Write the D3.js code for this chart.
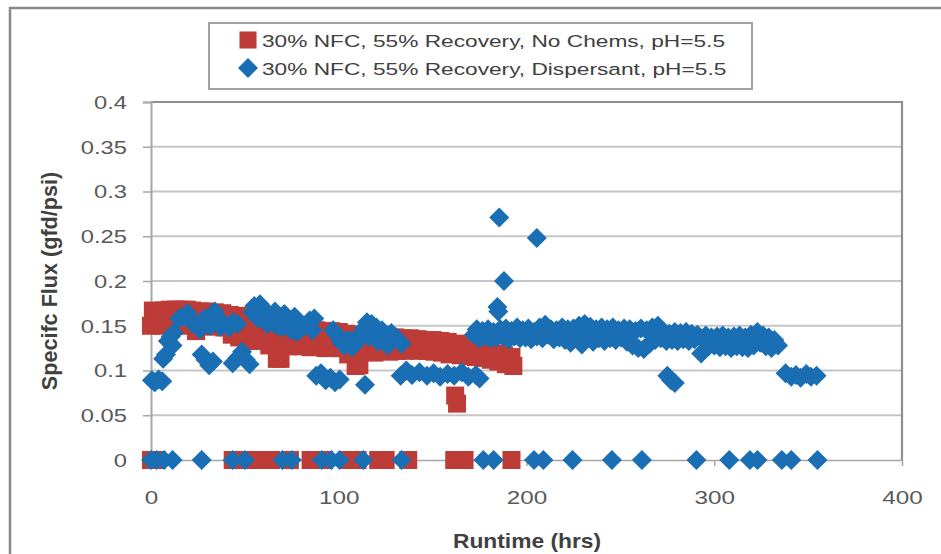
<!DOCTYPE html>
<html>
<head>
<meta charset="utf-8">
<script src="https://d3js.org/d3.v7.min.js"></script>
<style>
  body { margin: 0; background: #fff; }
  text { font-family: "Liberation Sans", Arial, sans-serif; }
</style>
</head>
<body>
<script>
var width = 941, height = 554;

// [runtime hrs, specific flux gfd/psi]
var noChems = [
  [0,0.150],[1,0.167],[2,0.158],[3,0.151],[4,0.166],[5,0.160],[6,0.150],[7,0.167],[8,0.156],[9,0.151],
  [10,0.168],[11,0.160],[12,0.150],[13,0.168],[14,0.157],[15,0.151],[16,0.168],[17,0.161],[18,0.150],[19,0.168],
  [20,0.158],[21,0.152],[22,0.167],[24,0.144],[25,0.160],[26,0.166],[27,0.150],[28,0.157],[30,0.166],[31,0.149],
  [32,0.160],[34,0.165],[35,0.150],[36,0.158],[38,0.164],[39,0.148],[40,0.158],[42,0.162],[43,0.140],[44,0.152],
  [46,0.161],[47,0.137],[48,0.150],[50,0.158],[51,0.134],[52,0.146],[54,0.156],[55,0.133],[56,0.144],[58,0.154],
  [59,0.135],[60,0.145],[62,0.152],[63,0.128],[64,0.140],[66,0.150],[67,0.113],[68,0.126],[69,0.113],[70,0.140],
  [72,0.148],[73,0.127],[74,0.138],[76,0.147],[77,0.128],[78,0.137],[80,0.146],[81,0.127],[82,0.136],[84,0.146],
  [85,0.126],[86,0.136],[88,0.145],[89,0.127],[90,0.135],[92,0.144],[93,0.125],[94,0.134],[96,0.144],[97,0.126],
  [98,0.134],[100,0.143],[101,0.125],[102,0.133],[104,0.141],[105,0.118],[106,0.130],[108,0.140],[109,0.105],[110,0.118],
  [111,0.106],[112,0.128],[114,0.139],[115,0.121],[116,0.130],[118,0.139],[119,0.120],[120,0.129],[122,0.138],[123,0.122],
  [124,0.130],[126,0.138],[127,0.121],[128,0.129],[130,0.137],[131,0.122],[132,0.129],[134,0.136],[135,0.122],[136,0.129],
  [138,0.136],[139,0.123],[140,0.129],[142,0.135],[143,0.122],[144,0.128],[146,0.134],[147,0.122],[148,0.128],[150,0.134],
  [151,0.121],[152,0.127],[154,0.133],[155,0.120],[156,0.126],[158,0.132],[159,0.118],[160,0.125],[162,0.072],[163,0.063],
  [164,0.130],[165,0.117],[166,0.124],[168,0.128],[169,0.116],[170,0.122],[172,0.126],[173,0.115],[174,0.120],[176,0.124],
  [177,0.114],[178,0.119],[180,0.122],[181,0.112],[182,0.117],[184,0.119],[185,0.110],[186,0.114],[188,0.117],[189,0.107],
  [190,0.112],[192,0.115],[193,0.105],
  // shutdowns
  [0,0],[3,0],[43.5,0],[50,0],[59,0],[64,0],[74,0],[85,0],[92,0],[105,0],[110,0],[121,0],[125,0],[137,0],
  [161.5,0],[167,0],[192,0]
];

var dispersant = [
  [0.5,0.089],[2,0.087],[4,0.090],[6,0.088],[6.5,0.113],[8,0.118],[9,0.133],[10.5,0.138],[11.5,0.128],[12,0.142],
  [15,0.158],[17,0.160],[19.5,0.164],[21,0.156],[22,0.153],[24,0.150],[26,0.146],[28.5,0.158],[30,0.152],[31.5,0.150],
  [34,0.166],[36,0.158],[37,0.149],[39,0.152],[41.5,0.148],[43.5,0.154],[46,0.152],
  [27,0.118],[29,0.112],[31,0.106],[33,0.110],
  [43.5,0.108],[46,0.114],[48.5,0.121],[50.5,0.112],[52.5,0.107],
  [54,0.165],[55,0.172],[57,0.158],[58,0.174],[60.5,0.168],[62,0.152],[63,0.162],[66,0.166],[67,0.150],[68.5,0.158],
  [70,0.148],[71,0.163],[74,0.156],[75,0.145],[76.5,0.160],[78,0.143],[79,0.152],[82,0.150],[84.5,0.156],[86,0.145],
  [87,0.158],
  [97,0.145],[99,0.140],[101,0.132],[103,0.128],[105,0.134],[107,0.126],[109,0.130],[111,0.140],
  [114,0.148],[115,0.154],[116,0.138],[117.5,0.152],[120,0.148],[121,0.132],[123,0.145],[125.5,0.140],[126,0.128],[128,0.142],
  [131,0.136],[133.5,0.130],
  [88,0.094],[90.5,0.097],[93,0.089],[95.5,0.092],[98,0.087],[100.5,0.090],[114,0.084],
  [133,0.094],[136,0.100],[139,0.095],[143,0.098],[147,0.094],[150.5,0.097],[154,0.093],[158,0.096],[161.5,0.094],
  [165.5,0.098],[169,0.093],[173,0.095],[175,0.091],
  [184.5,0.171],[185,0.166],[185.5,0.271],[188,0.200],[205.5,0.248],
  [172,0.140],[173.5,0.146],[175,0.136],[176.5,0.144],[178,0.138],[179.5,0.146],[181,0.136],[182.5,0.143],[184,0.137],[186,0.146],
  [187.5,0.138],[189,0.147],[190.5,0.135],[192,0.144],[193.5,0.138],[195,0.148],[196.5,0.136],[198,0.145],[199.5,0.137],[201,0.147],
  [202.5,0.135],[204,0.143],[205.5,0.138],[207,0.148],[208.5,0.136],[210,0.151],[211.5,0.140],[213,0.146],[214.5,0.135],[216,0.145],
  [217.5,0.137],[219,0.148],[220.5,0.134],[222,0.146],[223.5,0.131],[225,0.147],[226.5,0.136],[228,0.150],[229.5,0.129],[231,0.152],
  [232.5,0.138],[234,0.149],[235.5,0.132],[237,0.146],[238.5,0.136],[240,0.148],[241.5,0.133],[243,0.146],[244.5,0.136],[246,0.148],
  [247.5,0.134],[249,0.145],[250.5,0.137],[252,0.147],[253.5,0.132],[255,0.146],[256.5,0.128],[258,0.144],[259.5,0.125],[261,0.147],
  [262.5,0.124],[264,0.145],[265.5,0.130],[267,0.148],[268.5,0.134],[270,0.150],[271.5,0.136],[273,0.143],[274.5,0.133],[276,0.141],
  [277.5,0.134],[279,0.143],[280.5,0.133],[282,0.142],[283.5,0.135],[285,0.143],[286.5,0.133],[288,0.141],[289.5,0.135],[291,0.140],
  [293,0.119],[294,0.134],[295.5,0.139],[297,0.127],[298.5,0.137],[300,0.128],[301.5,0.138],[303,0.126],[304.5,0.139],[306,0.127],
  [307.5,0.137],[309,0.125],[310.5,0.138],[312,0.127],[313.5,0.139],[315,0.126],[316.5,0.137],[318,0.125],[319.5,0.140],[321,0.128],
  [323,0.143],[324.5,0.131],[326,0.139],[327.5,0.127],[329,0.137],[330.5,0.125],[332,0.134],[334,0.128],
  [275,0.094],[277,0.089],[279,0.086],
  [338,0.097],[341,0.093],[343.5,0.095],[346,0.092],[349,0.096],[351.5,0.093],[354.5,0.094],
  // shutdowns
  [0,0],[3,0],[7,0],[11.5,0],[27,0],[43.5,0],[50,0],[70,0],[75,0],[91,0],[96,0],[100.5,0],[113,0],[133.5,0],
  [177,0],[182.5,0],[204,0],[209,0],[224.5,0],[245.5,0],[261.5,0],[290.5,0],[308,0],[319,0],[323,0],[336,0],
  [341,0],[355,0]
];

var yTicks = [0, 0.05, 0.1, 0.15, 0.2, 0.25, 0.3, 0.35, 0.4];
var yTickLabels = ["0", "0.05", "0.1", "0.15", "0.2", "0.25", "0.3", "0.35", "0.4"];
var xTicks = [0, 100, 200, 300, 400];
var seriesNames = ["30% NFC, 55% Recovery, No Chems, pH=5.5",
                   "30% NFC, 55% Recovery, Dispersant, pH=5.5"];
var red = "#BE3C37", blue = "#1A6EB4";

var svg = d3.select("body").append("svg")
  .attr("width", width).attr("height", height);

// chart frame
svg.append("rect").attr("x", 10).attr("y", 8).attr("width", 960).attr("height", 600)
  .attr("fill", "none").attr("stroke", "#8a8a8a").attr("stroke-width", 2.5);

var x = d3.scaleLinear().domain([0, 400]).range([151, 902]);
var y = d3.scaleLinear().domain([0, 0.4]).range([460, 102]);

// gridlines
svg.append("g").selectAll("line").data(yTicks.slice(1, -1)).join("line")
  .attr("x1", x(0)).attr("x2", x(400))
  .attr("y1", d => y(d)).attr("y2", d => y(d))
  .attr("stroke", "#c6c6c6").attr("stroke-width", 2);

// plot area border (top/right)
svg.append("path")
  .attr("d", "M" + x(0) + "," + y(0.4) + "H" + x(400) + "V" + y(0))
  .attr("fill", "none").attr("stroke", "#8f8f8f").attr("stroke-width", 2.2);

// y axis
var yAxis = svg.append("g").attr("transform", "translate(" + x(0) + ",0)")
  .call(d3.axisLeft(y).tickValues(yTicks).tickSize(8)
    .tickFormat((d, i) => yTickLabels[i]));
yAxis.select(".domain").attr("stroke", "#a6a6a6").attr("stroke-width", 2);
yAxis.selectAll(".tick line").attr("stroke", "#a6a6a6").attr("stroke-width", 1.5);
yAxis.selectAll(".tick text")
  .attr("x", 0).attr("dy", "0.36em")
  .attr("transform", "translate(-24,0) scale(1.32,1)")
  .attr("font-size", 18).attr("fill", "#595959")
  .attr("font-family", "Liberation Sans, Arial, sans-serif");

// x axis
var xAxis = svg.append("g").attr("transform", "translate(0," + y(0) + ")")
  .call(d3.axisBottom(x).tickValues(xTicks).tickSize(6).tickSizeOuter(0));
xAxis.select(".domain").attr("stroke", "#a6a6a6").attr("stroke-width", 1.5);
xAxis.selectAll(".tick line").attr("stroke", "#a6a6a6").attr("stroke-width", 1.5);
xAxis.selectAll(".tick text")
  .attr("y", 0).attr("dy", 0)
  .attr("transform", "translate(0,44) scale(1.35,1)")
  .attr("font-size", 18).attr("fill", "#595959")
  .attr("font-family", "Liberation Sans, Arial, sans-serif");

// series
var square = d3.symbol().type(d3.symbolSquare).size(324);
var diamond = d3.symbol().type(d3.symbolSquare).size(200);

svg.append("g").selectAll("path").data(noChems).join("path")
  .attr("d", square)
  .attr("transform", d => "translate(" + x(d[0]) + "," + y(d[1]) + ")")
  .attr("fill", red);

svg.append("g").selectAll("path").data(dispersant).join("path")
  .attr("d", diamond)
  .attr("transform", d => "translate(" + x(d[0]) + "," + y(d[1]) + ") rotate(45)")
  .attr("fill", blue);

// axis titles
svg.append("text")
  .attr("transform", "translate(527,548) scale(1.14,1)")
  .attr("text-anchor", "middle").attr("font-size", 20).attr("font-weight", "bold")
  .attr("fill", "#404040").text("Runtime (hrs)");

svg.append("text")
  .attr("transform", "translate(49,281) rotate(-90) scale(1.08,1.1)")
  .attr("text-anchor", "middle").attr("dy", "0.36em")
  .attr("font-size", 20).attr("font-weight", "bold")
  .attr("fill", "#404040").text("Specifc Flux (gfd/psi)");

// legend
var legend = svg.append("g");
legend.append("rect").attr("x", 209).attr("y", 23).attr("width", 543).attr("height", 66)
  .attr("fill", "#fff").attr("stroke", "#a0a0a0").attr("stroke-width", 2);
legend.append("path").attr("d", d3.symbol().type(d3.symbolSquare).size(290))
  .attr("transform", "translate(248,40)").attr("fill", red);
legend.append("path").attr("d", diamond)
  .attr("transform", "translate(248,68) rotate(45)").attr("fill", blue);
legend.selectAll("text.lg").data(seriesNames).join("text")
  .attr("class", "lg")
  .attr("transform", (d, i) => "translate(262," + (47 + i * 28) + ") scale(1.335,1)")
  .attr("font-size", 17).attr("fill", "#404040")
  .text(d => d);
</script>
</body>
</html>
